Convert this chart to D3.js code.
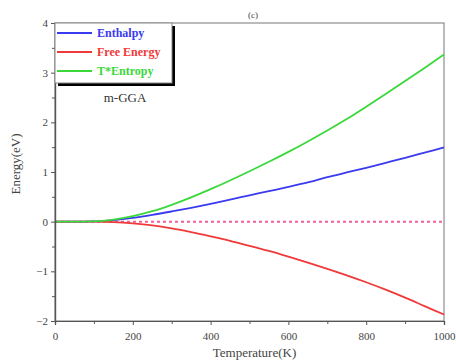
<!DOCTYPE html>
<html>
<head>
<meta charset="utf-8">
<script src="https://cdn.jsdelivr.net/npm/d3@7"></script>
<style>
  body { margin: 0; background: #fff; }
  svg text { font-family: "Liberation Serif", "Times New Roman", serif; }
</style>
</head>
<body>
<div id="chart"></div>
<script>
// data (T in K, energies in eV)
const temperature = [0, 50, 100, 150, 200, 250, 300, 350, 400, 450, 500, 550, 600, 650, 700, 750, 800, 850, 900, 950, 1000];
const enthalpy   = [0, 0, 0.004, 0.03, 0.075, 0.135, 0.205, 0.28, 0.36, 0.445, 0.53, 0.615, 0.70, 0.79, 0.895, 0.99, 1.085, 1.185, 1.285, 1.39, 1.495];
const freeEnergy = [0, 0, -0.001, -0.01, -0.035, -0.075, -0.135, -0.21, -0.295, -0.385, -0.485, -0.59, -0.705, -0.825, -0.95, -1.08, -1.22, -1.37, -1.53, -1.70, -1.87];
const tEntropy   = [0, 0, 0.005, 0.04, 0.11, 0.21, 0.34, 0.49, 0.655, 0.83, 1.015, 1.205, 1.405, 1.615, 1.835, 2.065, 2.315, 2.57, 2.83, 3.095, 3.365];
const xTicks = [0, 200, 400, 600, 800, 1000];
const yTicks = [-2, -1, 0, 1, 2, 3, 4];

const series = [
  { name: "Enthalpy", values: enthalpy, color: "#3a3af0" },
  { name: "Free Energy", values: freeEnergy, color: "#f03a3a" },
  { name: "T*Entropy", values: tEntropy, color: "#3ad83a" }
];

const W = 456, H = 364;
const margin = { top: 23, right: 12, bottom: 43, left: 55 };
const width = W - margin.left - margin.right;
const height = H - margin.top - margin.bottom;
const serif = "Liberation Serif, Times New Roman, serif";

const svg = d3.select("#chart").append("svg")
  .attr("width", W)
  .attr("height", H);

const g = svg.append("g")
  .attr("transform", `translate(${margin.left},${margin.top})`);

const x = d3.scaleLinear().domain([0, 1000]).range([0, width]);
const y = d3.scaleLinear().domain([-2, 4]).range([height, 0]);

// frame
g.append("rect")
  .attr("width", width).attr("height", height)
  .attr("fill", "none").attr("stroke", "#777").attr("stroke-width", 1);

// zero reference line
g.append("line")
  .attr("x1", x(0)).attr("x2", x(1000))
  .attr("y1", y(0)).attr("y2", y(0))
  .attr("stroke", "#f0609a").attr("stroke-width", 2)
  .attr("stroke-dasharray", "3,3");

const line = d3.line()
  .x((d, i) => x(temperature[i]))
  .y(d => y(d))
  .curve(d3.curveMonotoneX);

series.forEach(s => {
  g.append("path")
    .datum(s.values)
    .attr("d", line)
    .attr("fill", "none")
    .attr("stroke", s.color)
    .attr("stroke-width", 1.8);
});

// axes
const xAxis = d3.axisBottom(x).tickValues(xTicks).tickSize(4).tickFormat(d3.format("d"));
const xMinor = d3.axisBottom(x).tickValues(d3.range(100, 1000, 200)).tickSize(3).tickFormat("");
const yAxis = d3.axisLeft(y).tickValues(yTicks).tickSize(4).tickFormat(d3.format("d"));
const yMinor = d3.axisLeft(y).tickValues(d3.range(-1.5, 4, 1)).tickSize(3).tickFormat("");

const styleAxis = sel => {
  sel.attr("font-family", serif).attr("font-size", 11);
  sel.select(".domain").attr("stroke", "#555").attr("stroke-width", 1.2);
  sel.selectAll(".tick line").attr("stroke", "#555");
  sel.selectAll("text").attr("fill", "#444");
};

g.append("g").attr("transform", `translate(0,${height})`).call(xAxis).call(styleAxis)
  .selectAll("text").attr("dy", "1.05em");
g.append("g").attr("transform", `translate(0,${height})`).call(xMinor).call(styleAxis);
g.append("g").call(yAxis).call(styleAxis);
g.append("g").call(yMinor).call(styleAxis);

// axis titles
svg.append("text")
  .attr("x", margin.left + width / 2 + 5).attr("y", 357)
  .attr("text-anchor", "middle").attr("font-size", 13).attr("fill", "#444")
  .text("Temperature(K)");

svg.append("text")
  .attr("transform", `translate(20,${margin.top + height / 2 - 8}) rotate(-90)`)
  .attr("text-anchor", "middle").attr("font-size", 13).attr("fill", "#444")
  .text("Energy(eV)");

// panel label
svg.append("text")
  .attr("x", 253).attr("y", 18)
  .attr("text-anchor", "middle").attr("font-size", 9).attr("fill", "#444")
  .text("(c)");

// legend
const legend = g.append("g");
legend.append("rect")
  .attr("x", 3).attr("y", 3).attr("width", 117).attr("height", 60)
  .attr("fill", "#000");
legend.append("rect")
  .attr("x", 0).attr("y", 0).attr("width", 117).attr("height", 60)
  .attr("fill", "#fff").attr("stroke", "#888").attr("stroke-width", 1);

series.forEach((s, i) => {
  const ly = 10 + i * 19;
  legend.append("line")
    .attr("x1", 2).attr("x2", 37).attr("y1", ly).attr("y2", ly)
    .attr("stroke", s.color).attr("stroke-width", 2);
  legend.append("text")
    .attr("x", 42).attr("y", ly + 4)
    .attr("font-size", 12).attr("font-weight", "bold").attr("fill", s.color)
    .text(s.name);
});

legend.append("text")
  .attr("x", 70).attr("y", 79)
  .attr("text-anchor", "middle").attr("font-size", 13).attr("fill", "#333")
  .text("m-GGA");
</script>
</body>
</html>
